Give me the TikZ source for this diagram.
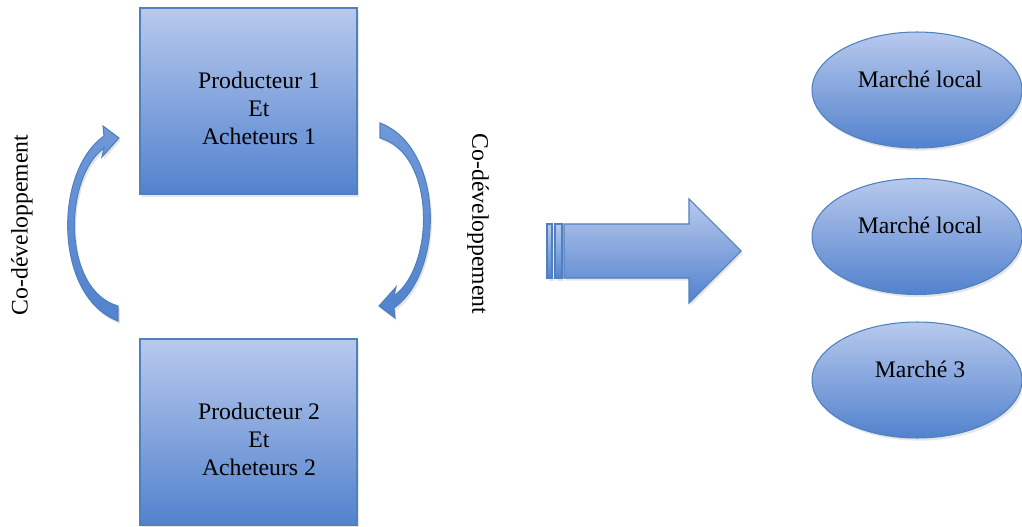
\documentclass[tikz,border=0pt]{standalone}
\usepackage{fontspec}
\setmainfont{Liberation Serif}
\usetikzlibrary{calc,positioning,shapes.geometric,shadows}
\definecolor{boxtop}{RGB}{184,201,237}
\definecolor{boxbot}{RGB}{82,130,206}
\definecolor{boxline}{RGB}{79,129,189}
\definecolor{flechemid}{RGB}{112,152,218}
\begin{document}
\begin{tikzpicture}[x=0.02cm,y=-0.02cm,
  blok/.style={draw=boxline,line width=0.6pt,top color=boxtop,bottom color=boxbot,
    drop shadow={opacity=0.2,shadow xshift=1pt,shadow yshift=-1.5pt}},
  fleche/.style={blok,top color=flechemid,bottom color=boxbot},
  carre/.style={blok,inner sep=0pt,minimum width=4.34cm,minimum height=3.72cm},
  marche/.style={blok,ellipse,inner sep=0pt,minimum width=4.2cm,minimum height=2.32cm},
  txt/.style={font=\fontsize{13.5}{16}\selectfont,align=center,inner sep=0pt}]
\useasboundingbox (0,0) rectangle (1022,527);
% boxes
\node[carre] (prod1) at (248.5,101) {};
\node[carre] (prod2) at (248.5,432) {};
\node[txt] (t1) at ($(prod1.center)+(10.5,7.5)$) {Producteur 1\\Et\\Acheteurs 1};
\node[txt] (t2) at ($(prod2.center)+(10.5,7.5)$) {Producteur 2\\Et\\Acheteurs 2};
% curved arrows
\path[fleche] (118,306) .. controls (62,290) and (63,178) .. (104,148) -- (102,157) -- (119,138)
  -- (103,126) -- (104,136) .. controls (53,172) and (54,297) .. (118,321) -- cycle;
\path[fleche,rotate around={180:(249,222)}] (118,306) .. controls (62,290) and (63,178) .. (104,148)
  -- (102,157) -- (119,138) -- (103,126) -- (104,136) .. controls (53,172) and (54,297) .. (118,321) -- cycle;
\node[txt,rotate=90] (cd1) at (22,225) {Co-développement};
\node[txt,rotate=-90] (cd2) at (478,224) {Co-développement};
% big arrow
\path[blok] (547,224) rectangle (552,278);
\path[blok] (555,224) rectangle (562,278);
\path[blok] (564,224) -- (689,224) -- (689,199) -- (741,251) -- (689,303) -- (689,278) -- (564,278) -- cycle;
% markets
\foreach \i/\y/\lab in {1/90/{Marché local},2/236.5/{Marché local},3/380/{Marché 3}}{
  \node[marche] (m\i) at (917,\y) {};
  \node[txt] (mt\i) at ($(m\i.center)+(3,-11)$) {\lab};
}
\end{tikzpicture}
\end{document}
